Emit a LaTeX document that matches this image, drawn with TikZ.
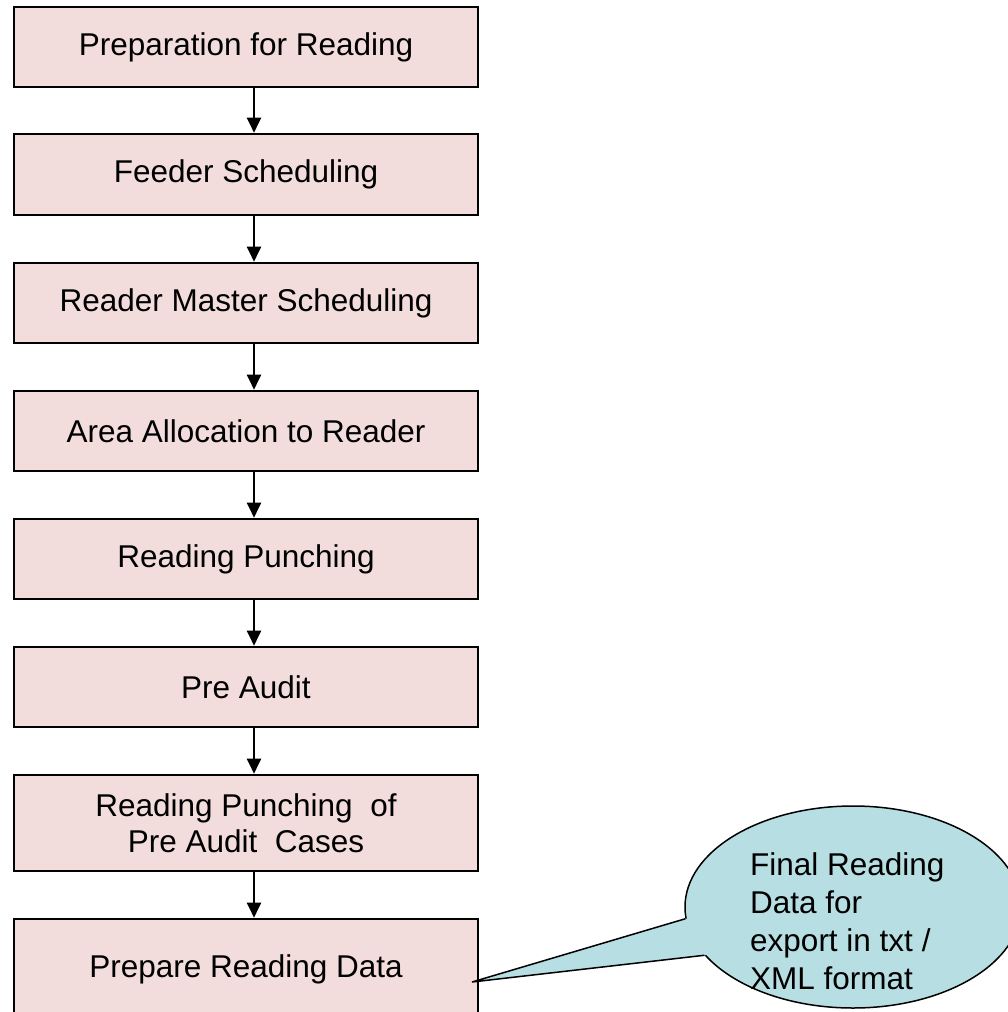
\documentclass[tikz,border=0pt]{standalone}
\usepackage{fontspec}
\setmainfont{Liberation Sans}
\usetikzlibrary{arrows.meta,shapes.geometric}
\definecolor{boxfill}{RGB}{242,221,220}
\definecolor{callfill}{RGB}{183,222,226}
\begin{document}
\begin{tikzpicture}[x=1pt,y=-1pt,
  stepbox/.style={draw=black, line width=2.6pt, fill=boxfill, minimum width=464pt, inner sep=0pt, align=center, font=\fontsize{31.5}{36}\selectfont},
  flow/.style={line width=2pt, -{Triangle[width=14pt,length=15pt]}},
  callbox/.style={ellipse, draw=black, line width=1.5pt, fill=callfill, minimum width=336pt, minimum height=202pt, inner sep=0pt},
  calltxt/.style={align=left, inner sep=0pt, font=\fontsize{31.5}{38}\selectfont}]
\useasboundingbox (0,0) rectangle (1008,1012);
\clip (0,0) rectangle (1008,1012);
\fill[white] (0,0) rectangle (1008,1012);
\node[stepbox, minimum height=80pt] (b1) at (246,47) {Preparation for Reading};
\node[stepbox, minimum height=81pt] (b2) at (246,174.5) {Feeder Scheduling};
\node[stepbox, minimum height=80pt] (b3) at (246,303) {Reader Master Scheduling};
\node[stepbox, minimum height=80pt] (b4) at (246,431) {Area Allocation to Reader};
\node[stepbox, minimum height=80pt] (b5) at (246,559) {Reading Punching};
\node[stepbox, minimum height=80pt] (b6) at (246,687) {Pre Audit};
\node[stepbox, minimum height=96pt] (b7) at (246,823) {Reading Punching~ of\\Pre Audit~ Cases};
\node[stepbox, minimum height=101pt] (b8) at (246,969.5) {Prepare Reading Data};
\coordinate (ax) at (254,0);
\draw[flow] (b1.south -| ax) -- (b2.north -| ax);
\draw[flow] (b2.south -| ax) -- (b3.north -| ax);
\draw[flow] (b3.south -| ax) -- (b4.north -| ax);
\draw[flow] (b4.south -| ax) -- (b5.north -| ax);
\draw[flow] (b5.south -| ax) -- (b6.north -| ax);
\draw[flow] (b6.south -| ax) -- (b7.north -| ax);
\draw[flow] (b7.south -| ax) -- (b8.north -| ax);
% callout
\node[callbox] (call) at (853,907) {};
\coordinate (tip) at (472,982);
\fill[callfill] (tip) -- (call.184) -- (call.center) -- (call.198) -- cycle;
\draw[line width=1.5pt, line join=miter] (call.184) -- (tip) -- (call.198);
\node[calltxt, anchor=north west] (ctext) at (750,852) {Final Reading\\Data for\\export in txt /\\XML format};
\end{tikzpicture}
\end{document}
